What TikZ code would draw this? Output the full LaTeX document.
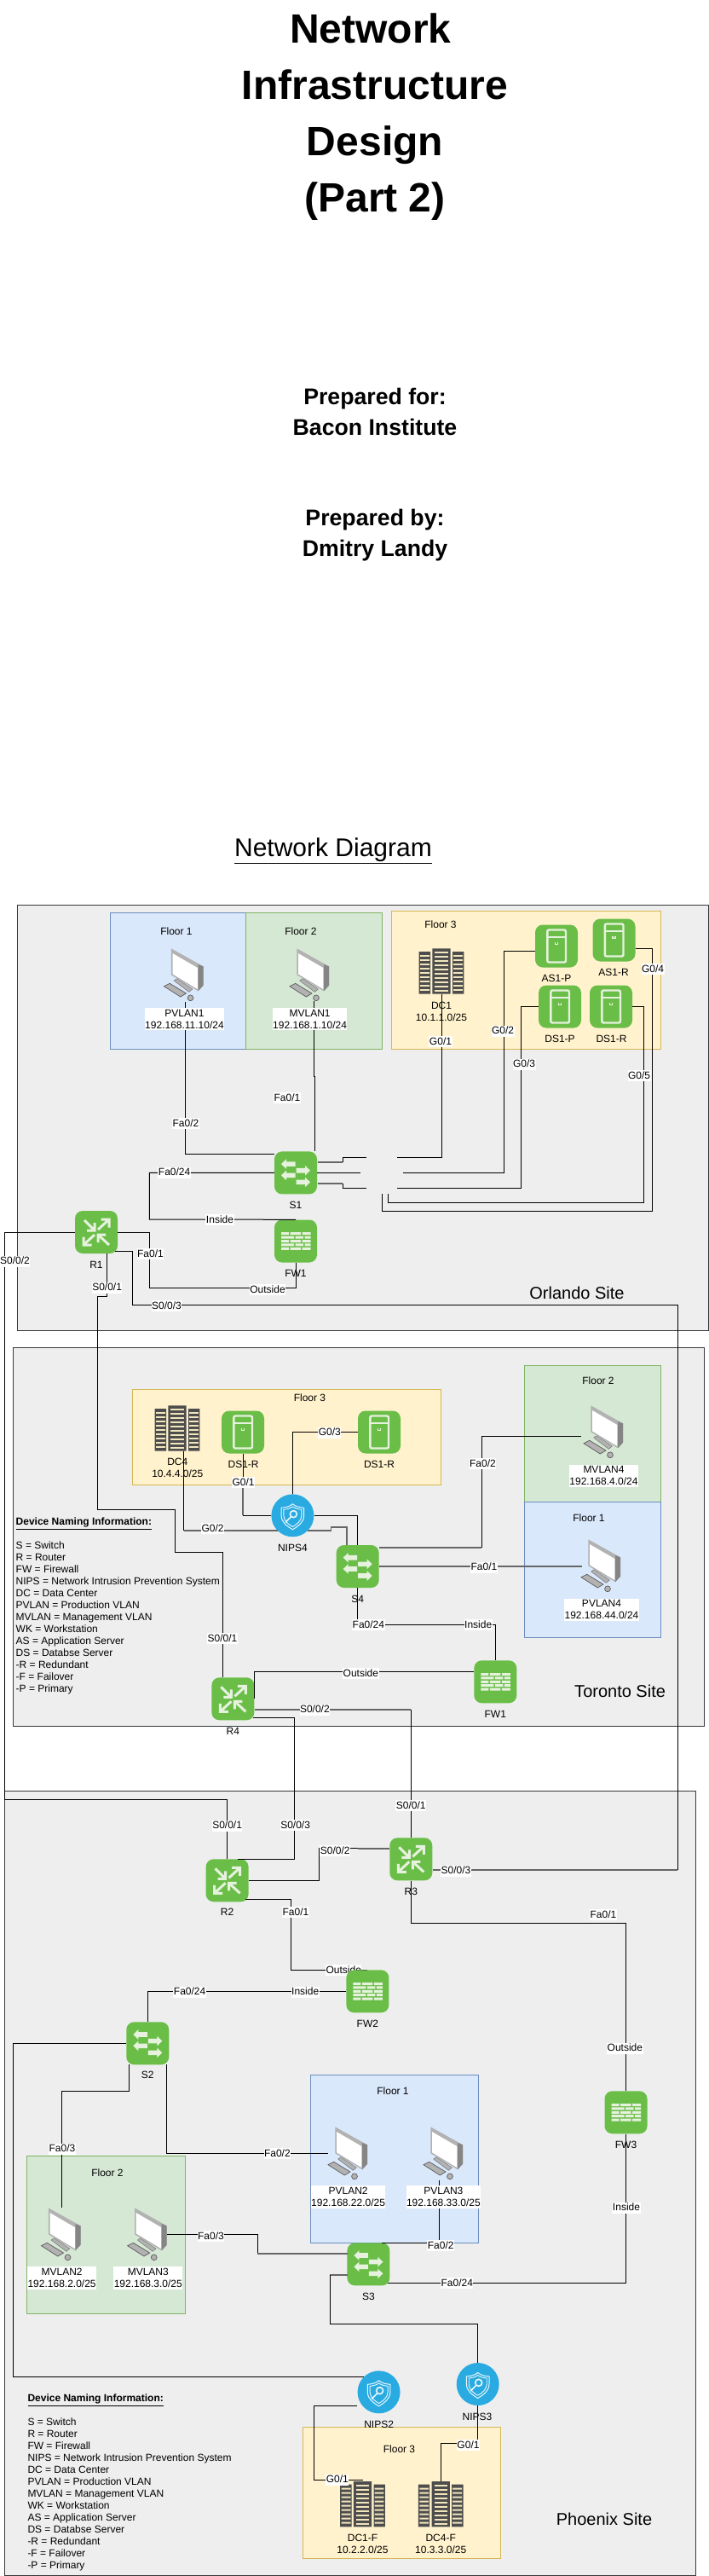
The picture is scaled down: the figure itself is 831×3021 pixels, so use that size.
\documentclass[tikz,border=0pt]{standalone}
\usepackage{fontspec}
\setmainfont{Liberation Sans}
\usetikzlibrary{shapes.geometric}
\definecolor{sitefill}{HTML}{EEEEEE}
\definecolor{sitedraw}{HTML}{36393D}
\definecolor{bluefill}{HTML}{DAE8FC}
\definecolor{bluedraw}{HTML}{6C8EBF}
\definecolor{greenfill}{HTML}{D5E8D4}
\definecolor{greendraw}{HTML}{82B366}
\definecolor{yellowfill}{HTML}{FFF2CC}
\definecolor{yellowdraw}{HTML}{D6B656}
\definecolor{devgreen}{HTML}{6ABE48}
\definecolor{devpale}{HTML}{E6F1DE}
\definecolor{nipsblue}{HTML}{29ABE2}
\definecolor{rackdark}{HTML}{4D4D4D}
\definecolor{rackpale}{HTML}{F1E5BE}
\newcommand{\legendtext}{\underline{\textbf{Device Naming Information:}}\\[14pt]
  S = Switch\\R = Router\\FW = Firewall\\NIPS = Network Intrusion Prevention System\\
  DC = Data Center\\PVLAN = Production VLAN\\MVLAN = Management VLAN\\WK = Workstation\\
  AS = Application Server\\DS = Databse Server\\-R = Redundant\\-F = Failover\\-P = Primary}
\tikzset{
  pics/routerglyph/.style={code={
    \draw[draw=devpale, line width=3pt] (-14,-14) -- (-2.5,-2.5) (-11,-2) -- (-2,-2) -- (-2,-11);
    \draw[draw=devpale, line width=3pt] (2,-3) -- (14.5,-14.5) (5.5,-15) -- (15,-15) -- (15,-5.5);
    \draw[draw=devpale, line width=3pt] (-2,3) -- (-14.5,14.5) (-15,5.5) -- (-15,15) -- (-5.5,15);
    \draw[draw=devpale, line width=3pt] (15,15) -- (2.5,3.5) (2,12) -- (2,3) -- (11,3);
  }},
  pics/swglyph/.style={code={
    \foreach \sx/\yy in {-1/-10.3,1/-2.7,-1/3,1/11}
      \fill[devpale, xscale=\sx] (0.5,{\yy-2.8}) -- (11,{\yy-2.8}) -- (11,{\yy-5.8}) -- (17,\yy) -- (11,{\yy+5.8}) -- (11,{\yy+2.8}) -- (0.5,{\yy+2.8}) -- cycle;
  }},
  pics/fwglyph/.style={code={
    \foreach \ry in {-10.3,-1.5,7.3}
      \fill[devpale] (-17,\ry) rectangle (-8,{\ry+3}) (-6.5,\ry) rectangle (6,{\ry+3}) (7.5,\ry) rectangle (17.5,{\ry+3});
    \foreach \ry in {-5.9,2.9}
      \fill[devpale] (-17,\ry) rectangle (-2,{\ry+3}) (-0.5,\ry) rectangle (9,{\ry+3}) (10.5,\ry) rectangle (17.5,{\ry+3});
  }},
  pics/serverglyph/.style={code={
    \draw[draw=devpale, line width=2.4pt, rounded corners=2pt] (-10.7,-19) rectangle (11,19);
    \draw[draw=devpale, line width=2.4pt] (-10.7,-10.5) -- (11,-10.5);
    \draw[draw=devpale, line width=1.2pt] (-1.5,-5) -- (-1.5,-2) -- (1.5,-2) -- (1.5,-5);
  }},
  pics/rackglyph/.style={code={
    \fill[rackdark] (-26.3,-23) rectangle (-13,26.7) (-10.7,-26.7) rectangle (10.7,26.7) (13,-23) rectangle (26.3,26.7);
    \foreach \ry in {-23,-18,...,23}
      \fill[rackpale] (-7.7,\ry) rectangle (7.7,{\ry+2});
    \foreach \ry in {-19,-14,...,23}
      \fill[rackpale] (-24.8,\ry) rectangle (-14,{\ry+1.8}) (14,\ry) rectangle (24.8,{\ry+1.8});
  }},
  pics/pcglyph/.style={code={
    \filldraw[draw=black!55, fill=black!30, line width=0.5pt] (-11.3,7) -- (-8,4.7) -- (10.3,17) -- (6.3,20.3) -- cycle;
    \fill[black!30] (-14.7,-30.7) -- (23,-9.7) -- (23,12.7) -- (17,19.3) -- (-14.7,0.3) -- cycle;
    \fill[black!48] (17,-12) -- (23,-9.7) -- (23,12.7) -- (17,19.3) -- cycle;
    \fill[white] (-13,-25) -- (16.3,-8) -- (16.3,17) -- (-13,-0.7) -- cycle;
    \filldraw[draw=black!65, fill=black!30, line width=0.7pt] (-23,13.7) -- (-16.3,10.3) -- (3,22) -- (-3.7,26) -- cycle;
    \filldraw[draw=black!65, fill=black!30, line width=0.7pt] (8,27.3) circle (3.4);
  }},
  pics/nipsglyph/.style={code={
    \draw[draw=white!90!nipsblue, line width=1pt] (0,-13.5) .. controls (4,-10) and (9,-9.5) .. (13.3,-9) -- (13.3,0) .. controls (13.3,8) and (6,13) .. (0,16.5) .. controls (-6,13) and (-13.3,8) .. (-13.3,0) -- (-13.3,-9) .. controls (-9,-9.5) and (-4,-10) .. cycle;
    \draw[draw=white!90!nipsblue, line width=0.9pt] (0,-10.5) .. controls (3,-8) and (7,-7.5) .. (10.5,-7) -- (10.5,0) .. controls (10.5,6) and (5,10.5) .. (0,13.2) .. controls (-5,10.5) and (-10.5,6) .. (-10.5,0) -- (-10.5,-7) .. controls (-7,-7.5) and (-3,-8) .. cycle;
    \draw[draw=white!90!nipsblue, line width=1.6pt] (1,-1.7) circle (4) (-1.8,1.2) -- (-8.3,8);
  }}
}
\begin{document}
\begin{tikzpicture}[x=1pt, y=-1pt, font=\fontsize{12}{14}\selectfont,
  site/.style={draw=sitedraw, fill=sitefill, line width=1pt, anchor=north west, inner sep=0pt},
  floorblue/.style={draw=bluedraw, fill=bluefill, line width=1pt, anchor=north west, inner sep=0pt},
  floorgreen/.style={draw=greendraw, fill=greenfill, line width=1pt, anchor=north west, inner sep=0pt},
  flooryellow/.style={draw=yellowdraw, fill=yellowfill, line width=1pt, anchor=north west, inner sep=0pt},
  device/.style={fill=devgreen, rounded corners=9pt, minimum width=50, minimum height=50, inner sep=0pt},
  nips/.style={ellipse, fill=nipsblue, minimum width=50, minimum height=50, inner sep=0pt},
  spot/.style={minimum width=47, minimum height=62, inner sep=0pt},
  rack/.style={minimum width=53, minimum height=53, inner sep=0pt},
  wire/.style={draw=black, line width=1pt},
  wirefat/.style={draw=black!60, line width=1.7pt},
  lab/.style={fill=white, inner xsep=0.5pt, inner ysep=0.5pt, text height=9.5pt, text depth=2.5pt},
  tagtxt/.style={inner sep=0pt, text height=9.5pt, text depth=2.5pt},
  addr/.style={fill=white, inner xsep=0.5pt, inner ysep=2pt, align=center},
  nametxt/.style={inner sep=0pt, align=center},
  legend/.style={inner sep=0pt, align=left, anchor=north west},
  sitename/.style={inner sep=0pt, font=\fontsize{20}{24}\selectfont},
  titletxt/.style={inner sep=0pt, align=center, font=\fontsize{48}{66}\selectfont\bfseries},
  cover/.style={inner sep=0pt, align=center, font=\fontsize{26.67}{36}\selectfont\bfseries}]
  \useasboundingbox (0,0) rectangle (831,3021);
  % cover text
  \node[titletxt] (doctitle) at (440,137.5) {Network\kern 10.6pt\\Infrastructure\\Design\\(Part 2)};
  \node[cover] (preparedfor) at (440,483) {Prepared for:\\Bacon Institute};
  \node[cover] (preparedby) at (440,628) {Prepared by:\\Dmitry Landy};
  \node[inner sep=0pt, font=\fontsize{30}{34}\selectfont] (diagramtitle) at (391,997.5) {\underline{Network Diagram}};
  % sites
  \node[site, minimum width=811, minimum height=499.6] (orlando) at (20,1060.7) {};
  \node[site, minimum width=810.2, minimum height=444] (toronto) at (15.4,1580.3) {};
  \node[site, minimum width=810.3, minimum height=919.7] (phoenix) at (5.3,2100.3) {};
  % floors, Orlando
  \node[floorblue, minimum width=159, minimum height=160] (o1) at (129,1070) {};
  \node[floorgreen, minimum width=160, minimum height=160] (o2) at (288,1070) {};
  \node[flooryellow, minimum width=316, minimum height=162] (o3) at (459,1068) {};
  \node[tagtxt] (o1name) at (207,1093) {Floor 1};
  \node[tagtxt] (o2name) at (353,1093) {Floor 2};
  \node[tagtxt] (o3name) at (517,1085) {Floor 3};
  % floors, Toronto
  \node[flooryellow, minimum width=361.4, minimum height=111.4] (t3) at (155.3,1629.3) {};
  \node[floorgreen, minimum width=160, minimum height=160.6] (t2) at (615.3,1600.7) {};
  \node[floorblue, minimum width=160, minimum height=159] (t1) at (615.3,1761.3) {};
  \node[tagtxt] (t3name) at (363.5,1639.7) {Floor 3};
  \node[tagtxt] (t2name) at (702,1619.7) {Floor 2};
  \node[tagtxt] (t1name) at (691,1780.7) {Floor 1};
  % floors, Phoenix
  \node[floorblue, minimum width=197.2, minimum height=197] (p1) at (363.5,2433.3) {};
  \node[floorgreen, minimum width=185.4, minimum height=185.3] (p2) at (31.3,2527.7) {};
  \node[flooryellow, minimum width=232.1, minimum height=154] (p3) at (354.5,2846.3) {};
  \node[tagtxt] (p1name) at (461,2452.7) {Floor 1};
  \node[tagtxt] (p2name) at (126,2548.7) {Floor 2};
  \node[tagtxt] (p3name) at (468.5,2872.7) {Floor 3};
  % devices, Orlando
  \node[spot] (pvlan1) at (215.5,1143) {}; \pic at (pvlan1) {pcglyph};
  \node[spot] (mvlan1) at (363,1143) {}; \pic at (mvlan1) {pcglyph};
  \node[rack] (dc1) at (518,1139) {}; \pic at (dc1) {rackglyph};
  \node[device] (as1p) at (653,1109.5) {}; \pic at (as1p) {serverglyph};
  \node[device] (as1r) at (720.5,1102.5) {}; \pic at (as1r) {serverglyph};
  \node[device] (ds1p) at (657,1180.5) {}; \pic at (ds1p) {serverglyph};
  \node[device] (ds1r) at (717,1180.5) {}; \pic at (ds1r) {serverglyph};
  \node[device] (s1) at (347,1375.4) {}; \pic at (s1) {swglyph};
  \node[device] (fw1) at (347,1455.5) {}; \pic at (fw1) {fwglyph};
  \node[device] (r1) at (113,1445) {}; \pic at (r1) {routerglyph};
  % devices, Toronto
  \node[rack] (dc4) at (208,1675) {}; \pic at (dc4) {rackglyph};
  \node[device] (ds4a) at (285,1679.5) {}; \pic at (ds4a) {serverglyph};
  \node[device] (ds4b) at (445,1679.5) {}; \pic at (ds4b) {serverglyph};
  \node[nips] (nips4) at (343.4,1777.3) {}; \pic at (nips4) {nipsglyph};
  \node[device] (s4) at (419.7,1837) {}; \pic at (s4) {swglyph};
  \node[device] (fw4) at (581.3,1972.3) {}; \pic at (fw4) {fwglyph};
  \node[device] (r4) at (273.4,1992.3) {}; \pic at (r4) {routerglyph};
  \node[spot] (mvlan4) at (708,1679) {}; \pic at (mvlan4) {pcglyph};
  \node[spot] (pvlan4) at (705,1836) {}; \pic at (pvlan4) {pcglyph};
  % devices, Phoenix
  \node[device] (r2) at (266.6,2205.3) {}; \pic at (r2) {routerglyph};
  \node[device] (r3) at (482.3,2180.3) {}; \pic at (r3) {routerglyph};
  \coordinate (fw2top) at (431.4,2310.3);
  \draw[wire] (287.8,2227.3) -- (341.3,2227.3) -- (341.3,2310.3) -- (fw2top);
  \node[lab] (pp8) at (403.3,2310.7) {Outside};
  \node[device] (fw2) at (431.4,2335.3) {}; \pic at (fw2) {fwglyph};
  \node[device] (fw3) at (734.5,2477.3) {}; \pic at (fw3) {fwglyph};
  \node[device] (s2) at (173.3,2396.3) {}; \pic at (s2) {swglyph};
  \node[device] (s3) at (432.4,2655.3) {}; \pic at (s3) {swglyph};
  \node[spot] (pvlan2) at (408,2525) {}; \pic at (pvlan2) {pcglyph};
  \node[spot] (pvlan3) at (520,2525) {}; \pic at (pvlan3) {pcglyph};
  \node[spot] (mvlan2) at (71.5,2620) {}; \pic at (mvlan2) {pcglyph};
  \node[spot] (mvlan3) at (172.7,2620) {}; \pic at (mvlan3) {pcglyph};
  \node[nips] (nips2) at (444.6,2805.3) {}; \pic at (nips2) {nipsglyph};
  \node[nips] (nips3) at (560.7,2796) {}; \pic at (nips3) {nipsglyph};
  \node[rack] (dc1f) at (425.5,2936.7) {}; \pic at (dc1f) {rackglyph};
  \node[rack] (dc4f) at (517.2,2936.7) {}; \pic at (dc4f) {rackglyph};
  % wires, Orlando
  \coordinate (gapa) at (430,1357);
  \coordinate (gapb) at (466,1357);
  \coordinate (gapc) at (423.4,1375.4);
  \coordinate (gapd) at (473,1375.4);
  \coordinate (gape) at (430,1393.3);
  \coordinate (gapf) at (466,1393.3);
  \coordinate (gapg) at (455,1400);
  \coordinate (gaph) at (448.3,1400);
  \draw[wire] (217,1175) -- (217,1353) -- (s1.west |- 0,1353);
  \draw[wire] (368,1174) -- (368,1262) -- (369.5,1262) -- (369.5,1350);
  \draw[wire] (dc1.south) -- (518,1357) -- (gapb);
  \draw[wirefat] (372.5,1363) -- (402,1363);
  \draw[wire] (402,1363) -- (402,1357) -- (gapa);
  \draw[wire] (as1p.west |- 0,1115.4) -- (591.4,1115.4) -- (591.4,1375.4) -- (gapd);
  \draw[wire] (s1.east) -- (gapc);
  \draw[wire] (ds1p.west) -| (611.5,1393.3) -- (gapf);
  \draw[wirefat] (372.5,1387.8) -- (402,1387.8);
  \draw[wire] (402,1387.8) -- (402,1393.3) -- (gape);
  \draw[wire] (ds1r.east) -| (755,1410.5) -| (gapg);
  \draw[wire] (as1r.east |- 0,1112.3) -| (765,1420) -| (gaph);
  \draw[wire] (s1.west) -| (175.4,1430) -- (fw1.north);
  \draw[wire] (r1.east) -| (175.4,1510.4) -| (fw1.south);
  \draw[wire] (r1.west) -| (5.3,2110) -| (r2.north);
  \draw[wire] (125.6,1470) -- (125.6,1520.4) -- (114.5,1520.4) -- (114.5,1770.3) -- (205.6,1770.3) -- (205.6,1820.3) -- (261,1820.3) -- (261,1967.3);
  \draw[wire] (135,1467.4) -- (155.3,1467.4) -- (155.3,1530.4) -- (795.4,1530.4) -- (795.4,2193);
  \draw[wirefat] (795.4,2193) -- (r3.east |- 0,2193);
  % wires, Toronto
  \draw[wire] (215.7,1701.7) -- (215.7,1795);
  \draw[wirefat] (215.7,1795) -- (326,1795);
  \draw[wire] (ds4a.south) -- (285,1777.3) -- (nips4.west);
  \draw[wirefat] (285,1738) -- (285,1777.3);
  \draw[wire] (ds4b.west) -| (nips4.north);
  \draw[wire] (nips4.east) -| (s4.north);
  \draw[wirefat] (361,1795) -- (388.4,1795) -- (388.4,1791.3) -- (407,1791.3) -- (407,1812);
  \draw[wirefat] (s4.east |- 0,1815) -- (565.4,1815);
  \draw[wire] (565.4,1815) -- (565.4,1684.7) -- (682,1684.7);
  \draw[wirefat] (s4.east) -- (682.6,1837);
  \draw[wire] (s4.south) -- (419.7,1905) -- (581.3,1905) -- (fw4.north);
  \draw[wire] (fw4.west |- 0,1960.3) -- (298.4,1960.3) -- (298.4,1992);
  \draw[wirefat] (r4.east |- 0,2005) -- (482.3,2005);
  \draw[wire] (482.3,2005) -- (r3.north);
  \draw[wire] (296.8,2014.3) -- (345.5,2014.3) -- (345.5,2180.3) -- (279.3,2180.3);
  % wires, Phoenix
  \draw[wire] (r2.east) -| (374.7,2167.7) -- (420,2167.7);
  \draw[wirefat] (420,2167.7) -- (r3.west |- 0,2167.7);
  \draw[wire] (r3.south) -- (482.3,2255.3) -- (734.5,2255.3) -- (fw3.north);
  \draw[wire] (fw3.south) -- (734.5,2677.3) -- (454.7,2677.3);
  \draw[wire] (fw2.west) -| (s2.north);
  \draw[wire] (s2.west) -| (15.4,2787.3) -- (426.6,2787.3);
  \draw[wire] (151.6,2421.3) -- (151.6,2452.3) -- (72,2452.3) -- (72,2589.3);
  \draw[wire] (195.5,2421.3) -- (195.5,2525.7) -- (385.3,2525.7);
  \draw[wire] (515.6,2556.7) -- (515.6,2630.3) -- (448.3,2630.3);
  \draw[wire] (196,2620.3) -- (302,2620.3) -- (302,2643);
  \draw[wirefat] (302,2643) -- (407.5,2643);
  \draw[wirefat] (407.5,2667.7) -- (387.4,2667.7);
  \draw[wire] (387.4,2667.7) -- (387.4,2725.7) -- (560.7,2725.7) -- (nips3.north);
  \draw[wire] (nips3.south) -- (560.7,2865.3) -- (517.2,2865.3) -- (dc4f.north);
  \draw[wire] (nips2.west |- 0,2821.3) -- (368.3,2821.3) -- (368.3,2908.3) -- (425.5,2908.3);
  % port labels, Orlando
  \node[lab] (po1) at (218,1317.5) {Fa0/2};
  \node[lab] (po2) at (337,1287.6) {Fa0/1};
  \node[lab] (po3) at (517,1221.5) {G0/1};
  \node[lab] (po4) at (590,1209.4) {G0/2};
  \node[lab] (po5) at (615,1248.3) {G0/3};
  \node[lab] (po6) at (766,1136.8) {G0/4};
  \node[lab] (po7) at (750,1261.8) {G0/5};
  \node[lab] (po8) at (204.6,1375.4) {Fa0/24};
  \node[lab] (po9) at (258,1430.5) {Inside};
  \node[lab] (po10) at (176.5,1470.5) {Fa0/1};
  \node[lab] (po11) at (314,1512.8) {Outside};
  \node[lab] (po12) at (17.5,1479.4) {S0/0/2};
  \node[lab] (po13) at (125.6,1510.4) {S0/0/1};
  \node[lab] (po14) at (195.5,1531.7) {S0/0/3};
  % port labels, Toronto
  \node[lab] (pt1) at (249.6,1792.7) {G0/2};
  \node[lab] (pt2) at (285.6,1738.7) {G0/1};
  \node[lab] (pt3) at (386.9,1680.3) {G0/3};
  \node[lab] (pt4) at (566.5,1716.7) {Fa0/2};
  \node[lab] (pt5) at (568,1838.3) {Fa0/1};
  \node[lab] (pt6) at (432.4,1905.7) {Fa0/24};
  \node[lab] (pt7) at (561.2,1905.7) {Inside};
  \node[lab] (pt8) at (423.4,1962.7) {Outside};
  \node[lab] (pt9) at (261,1921.7) {S0/0/1};
  \node[lab] (pt10) at (369.4,2005.3) {S0/0/2};
  % port labels, Phoenix
  \node[lab] (pp1) at (266.6,2141.3) {S0/0/1};
  \node[lab] (pp2) at (346.6,2140.7) {S0/0/3};
  \node[lab] (pp3) at (482.3,2117.7) {S0/0/1};
  \node[lab] (pp4) at (393.2,2170.7) {S0/0/2};
  \node[lab] (pp5) at (535,2194.3) {S0/0/3};
  \node[lab] (pp6) at (347,2242.7) {Fa0/1};
  \node[lab] (pp7) at (708,2245.7) {Fa0/1};
  \node[lab] (pp9) at (733.4,2402.3) {Outside};
  \node[lab] (pp10) at (222.6,2336.3) {Fa0/24};
  \node[lab] (pp11) at (358.2,2336.3) {Inside};
  \node[lab] (pp12) at (73,2520.3) {Fa0/3};
  \node[lab] (pp13) at (325.4,2525.7) {Fa0/2};
  \node[lab] (pp14) at (735,2589.3) {Inside};
  \node[lab] (pp15) at (247.5,2622.7) {Fa0/3};
  \node[lab] (pp16) at (517.2,2633.7) {Fa0/2};
  \node[lab] (pp17) at (536.3,2677.7) {Fa0/24};
  \node[lab] (pp18) at (549.5,2867.7) {G0/1};
  \node[lab] (pp19) at (395.9,2908.3) {G0/1};
  % device names
  \node[addr] (pvlan1txt) at (216.5,1195) {PVLAN1\\192.168.11.10/24};
  \node[addr] (mvlan1txt) at (363.6,1195) {MVLAN1\\192.168.1.10/24};
  \node[nametxt] (dc1txt) at (518,1186) {DC1\\10.1.1.0/25};
  \node[tagtxt] (as1ptxt) at (653,1148) {AS1-P};
  \node[tagtxt] (as1rtxt) at (720,1141) {AS1-R};
  \node[tagtxt] (ds1ptxt) at (657,1219) {DS1-P};
  \node[tagtxt] (ds1rtxt) at (717.5,1219) {DS1-R};
  \node[tagtxt] (s1txt) at (347,1413.6) {S1};
  \node[tagtxt] (fw1txt) at (347,1493.5) {FW1};
  \node[tagtxt] (r1txt) at (113,1483.5) {R1};
  \node[nametxt] (dc4txt) at (208.3,1721.7) {DC4\\10.4.4.0/25};
  \node[tagtxt] (ds4atxt) at (285.6,1717.7) {DS1-R};
  \node[tagtxt] (ds4btxt) at (445,1717.7) {DS1-R};
  \node[tagtxt] (nips4txt) at (343.4,1816) {NIPS4};
  \node[tagtxt] (s4txt) at (419.7,1875.7) {S4};
  \node[tagtxt] (fw4txt) at (581.3,2010.7) {FW1};
  \node[tagtxt] (r4txt) at (273.4,2030.7) {R4};
  \node[addr] (mvlan4txt) at (708.5,1730.7) {MVLAN4\\192.168.4.0/24};
  \node[addr] (pvlan4txt) at (706,1887.7) {PVLAN4\\192.168.44.0/24};
  \node[tagtxt] (r2txt) at (266.6,2243.3) {R2};
  \node[tagtxt] (r3txt) at (482.3,2218.7) {R3};
  \node[tagtxt] (fw2txt) at (431.4,2373.7) {FW2};
  \node[tagtxt] (fw3txt) at (734.5,2515.7) {FW3};
  \node[tagtxt] (s2txt) at (173.3,2434.3) {S2};
  \node[tagtxt] (s3txt) at (432.4,2693.7) {S3};
  \node[addr] (pvlan2txt) at (408.6,2576.7) {PVLAN2\\192.168.22.0/25};
  \node[addr] (pvlan3txt) at (520.4,2576.7) {PVLAN3\\192.168.33.0/25};
  \node[addr] (mvlan2txt) at (72.6,2671.7) {MVLAN2\\192.168.2.0/25};
  \node[addr] (mvlan3txt) at (173.8,2671.7) {MVLAN3\\192.168.3.0/25};
  \node[tagtxt] (nips2txt) at (444.6,2843.7) {NIPS2};
  \node[tagtxt] (nips3txt) at (560,2834.7) {NIPS3};
  \node[nametxt] (dc1ftxt) at (425.5,2983.7) {DC1-F\\10.2.2.0/25};
  \node[nametxt] (dc4ftxt) at (517.2,2983.7) {DC4-F\\10.3.3.0/25};
  % legends and site names
  \node[legend] (legendt) at (18.5,1780) {\legendtext};
  \node[legend] (legendp) at (32.3,2808) {\legendtext};
  \node[sitename] (orlandotxt) at (677,1516) {Orlando Site};
  \node[sitename] (torontotxt) at (727.6,1983.3) {Toronto Site};
  \node[sitename] (phoenixtxt) at (709,2954) {Phoenix Site};
\end{tikzpicture}
\end{document}
